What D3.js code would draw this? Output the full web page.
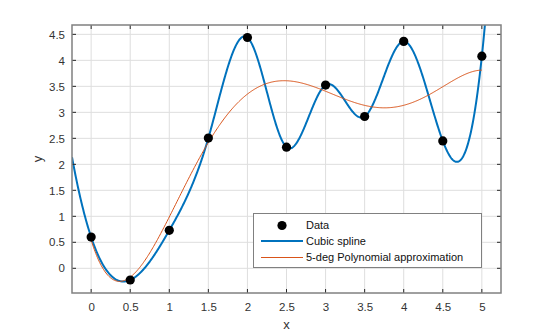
<!DOCTYPE html>
<html><head><meta charset="utf-8">
<script src="https://cdn.jsdelivr.net/npm/d3@7"></script>
<style>body{margin:0;background:#fff;} text{font-family:"Liberation Sans",Arial,sans-serif;}</style>
</head><body><svg id="c" width="554" height="334"></svg>
<script>
const xData = [0, 0.5, 1, 1.5, 2, 2.5, 3, 3.5, 4, 4.5, 5];
const yData = [0.60, -0.225, 0.73, 2.505, 4.44, 2.33, 3.525, 2.92, 4.365, 2.45, 4.08];
const xTicks = [0, 0.5, 1, 1.5, 2, 2.5, 3, 3.5, 4, 4.5, 5];
const yTicks = [0, 0.5, 1, 1.5, 2, 2.5, 3, 3.5, 4, 4.5];
const legendLabels = ["Data", "Cubic spline", "5-deg Polynomial approximation"];
const xDomain = [-0.245, 5.245];
const yDomain = [-0.475, 4.68];

function solve(A, b) {
  const n = b.length; A = A.map(r => r.slice()); b = b.slice();
  for (let i = 0; i < n; i++) {
    let p = i; for (let k = i + 1; k < n; k++) if (Math.abs(A[k][i]) > Math.abs(A[p][i])) p = k;
    [A[i], A[p]] = [A[p], A[i]]; [b[i], b[p]] = [b[p], b[i]];
    for (let k = i + 1; k < n; k++) { const f = A[k][i] / A[i][i]; for (let j = i; j < n; j++) A[k][j] -= f * A[i][j]; b[k] -= f * b[i]; }
  }
  const x = new Array(n).fill(0);
  for (let i = n - 1; i >= 0; i--) { let s = b[i]; for (let j = i + 1; j < n; j++) s -= A[i][j] * x[j]; x[i] = s / A[i][i]; }
  return x;
}
// not-a-knot cubic spline (second-derivative form)
function spline(xs, ys) {
  const n = xs.length, h = [];
  for (let i = 0; i < n - 1; i++) h.push(xs[i + 1] - xs[i]);
  const A = [], b = [];
  for (let i = 0; i < n; i++) { A.push(new Array(n).fill(0)); b.push(0); }
  A[0][0] = -1 / h[0]; A[0][1] = 1 / h[0] + 1 / h[1]; A[0][2] = -1 / h[1];
  for (let i = 1; i < n - 1; i++) {
    A[i][i - 1] = h[i - 1] / 6; A[i][i] = (h[i - 1] + h[i]) / 3; A[i][i + 1] = h[i] / 6;
    b[i] = (ys[i + 1] - ys[i]) / h[i] - (ys[i] - ys[i - 1]) / h[i - 1];
  }
  A[n - 1][n - 3] = -1 / h[n - 3]; A[n - 1][n - 2] = 1 / h[n - 3] + 1 / h[n - 2]; A[n - 1][n - 1] = -1 / h[n - 2];
  const M = solve(A, b);
  return x => {
    let i = 0; while (i < n - 2 && x > xs[i + 1]) i++;
    const hi = h[i], a = xs[i + 1] - x, c = x - xs[i];
    return M[i] * a * a * a / (6 * hi) + M[i + 1] * c * c * c / (6 * hi) + (ys[i] / hi - M[i] * hi / 6) * a + (ys[i + 1] / hi - M[i + 1] * hi / 6) * c;
  };
}
function polyfit(xs, ys, deg) {
  const m = deg + 1;
  const ATA = [], ATb = [];
  for (let i = 0; i < m; i++) { ATA.push(new Array(m).fill(0)); ATb.push(0); }
  xs.forEach((x, k) => {
    const t = (x - 2.5) / 2.5, p = []; for (let i = 0; i < m; i++) p.push(Math.pow(t, i));
    for (let i = 0; i < m; i++) { ATb[i] += p[i] * ys[k]; for (let j = 0; j < m; j++) ATA[i][j] += p[i] * p[j]; }
  });
  const c = solve(ATA, ATb);
  return x => { const t = (x - 2.5) / 2.5; let s = 0; for (let i = m - 1; i >= 0; i--) s = s * t + c[i]; return s; };
}

const L = 72, R = 501, T = 25, B = 293;
const svg = d3.select("#c");
const x = d3.scaleLinear().domain(xDomain).range([L, R]);
const y = d3.scaleLinear().domain(yDomain).range([B, T]);

svg.append("rect").attr("x", L).attr("y", T).attr("width", R - L).attr("height", B - T).attr("fill", "#fff");
const grid = svg.append("g").attr("stroke", "#dedede").attr("stroke-width", 1);
xTicks.forEach(v => grid.append("line").attr("x1", x(v)).attr("x2", x(v)).attr("y1", T).attr("y2", B));
yTicks.forEach(v => grid.append("line").attr("y1", y(v)).attr("y2", y(v)).attr("x1", L).attr("x2", R));

svg.append("clipPath").attr("id", "clp").append("rect").attr("x", L).attr("y", T).attr("width", R - L).attr("height", B - T);
const sp = spline(xData, yData), pf = polyfit(xData, yData, 5);
const spPts = d3.range(xDomain[0], xDomain[1] + 0.001, 0.005).map(v => [v, sp(v)]);
const pfPts = d3.range(0, 5.0001, 0.01).map(v => [v, pf(v)]);
const line = d3.line().x(d => x(d[0])).y(d => y(d[1]));
const plot = svg.append("g").attr("clip-path", "url(#clp)");
plot.append("path").attr("d", line(spPts)).attr("fill", "none").attr("stroke", "#0072BD").attr("stroke-width", 2);
plot.append("path").attr("d", line(pfPts)).attr("fill", "none").attr("stroke", "#D95319").attr("stroke-width", 1);
plot.selectAll("circle").data(xData).join("circle").attr("cx", d => x(d)).attr("cy", (d, i) => y(yData[i])).attr("r", 4.6).attr("fill", "#000");

// axes
const ax = d3.axisBottom(x).tickValues(xTicks).tickSize(0).tickPadding(10).tickFormat(d3.format("~g"));
const ay = d3.axisLeft(y).tickValues(yTicks).tickSize(0).tickPadding(7).tickFormat(d3.format("~g"));
const gx = svg.append("g").attr("transform", `translate(0,${B})`).call(ax);
const gy = svg.append("g").attr("transform", `translate(${L},0)`).call(ay);
[gx, gy].forEach(g => { g.select(".domain").remove(); g.selectAll("text").attr("fill", "#333").style("font-size", "11.5px").style("font-family", "Liberation Sans, Arial, sans-serif"); });
const tk = svg.append("g").attr("stroke", "#262626").attr("stroke-width", 1);
xTicks.forEach(v => { tk.append("line").attr("x1", x(v)).attr("x2", x(v)).attr("y1", B).attr("y2", B - 4); tk.append("line").attr("x1", x(v)).attr("x2", x(v)).attr("y1", T).attr("y2", T + 4); });
yTicks.forEach(v => { tk.append("line").attr("y1", y(v)).attr("y2", y(v)).attr("x1", L).attr("x2", L + 4); tk.append("line").attr("y1", y(v)).attr("y2", y(v)).attr("x1", R).attr("x2", R - 4); });
svg.append("rect").attr("x", L).attr("y", T).attr("width", R - L).attr("height", B - T).attr("fill", "none").attr("stroke", "#808080").attr("stroke-width", 1.5);

svg.append("text").attr("x", (L + R) / 2).attr("y", 329).attr("text-anchor", "middle").attr("fill", "#333").style("font-size", "13px").text("x");
svg.append("text").attr("transform", `translate(42,${(T + B) / 2}) rotate(-90)`).attr("text-anchor", "middle").attr("fill", "#333").style("font-size", "13px").text("y");

// legend
const lg = svg.append("g");
lg.append("rect").attr("x", 253.5).attr("y", 213.5).attr("width", 228).attr("height", 54).attr("fill", "#fff").attr("stroke", "#808080").attr("stroke-width", 1);
const rows = [225.5, 241, 257.5];
lg.append("circle").attr("cx", 282).attr("cy", rows[0]).attr("r", 4.6).attr("fill", "#000");
lg.append("line").attr("x1", 261).attr("x2", 303).attr("y1", rows[1]).attr("y2", rows[1]).attr("stroke", "#0072BD").attr("stroke-width", 2);
lg.append("line").attr("x1", 261).attr("x2", 303).attr("y1", rows[2]).attr("y2", rows[2]).attr("stroke", "#D95319").attr("stroke-width", 1);
legendLabels.forEach((t, i) => lg.append("text").attr("x", 306).attr("y", rows[i]).attr("dy", "0.35em").attr("fill", "#111").style("font-size", "11px").text(t));
</script></body></html>
